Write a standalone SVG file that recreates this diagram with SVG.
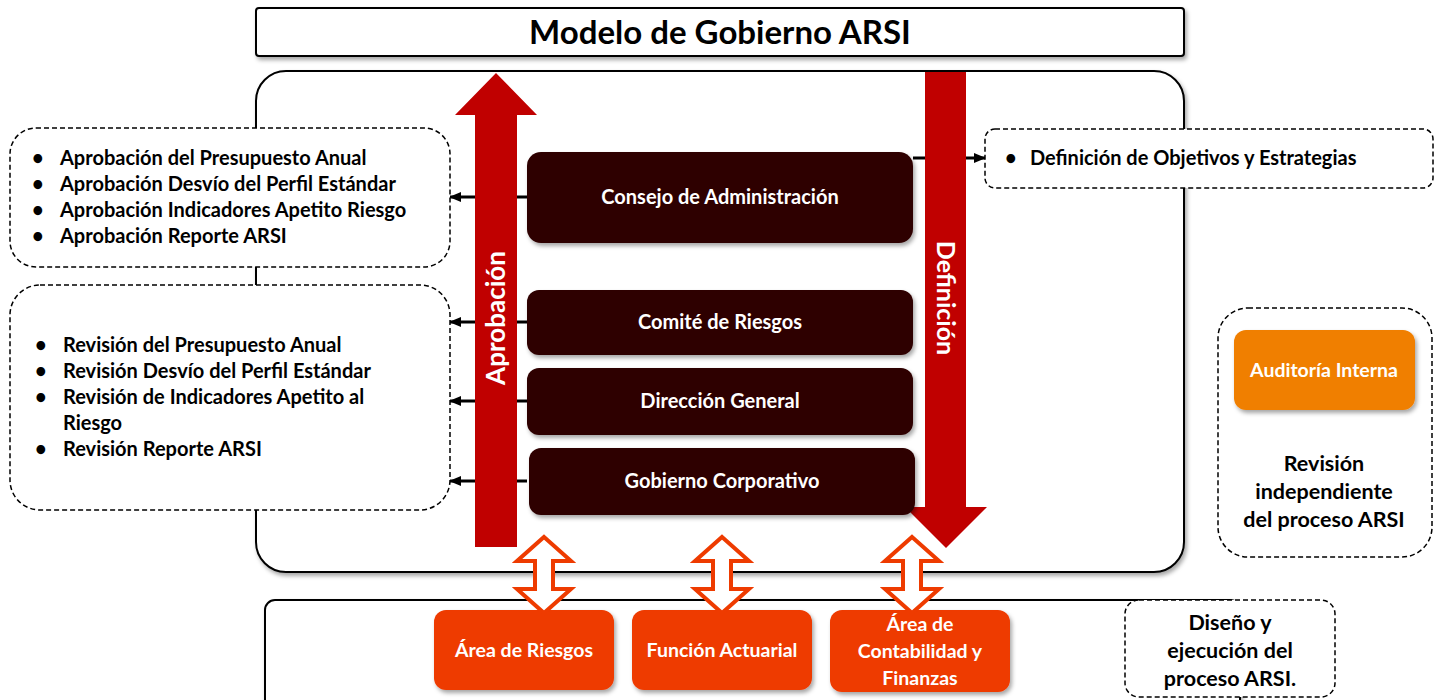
<svg xmlns="http://www.w3.org/2000/svg" width="1438" height="700" viewBox="0 0 1438 700">
<defs>
<filter id="sh" x="-10%" y="-10%" width="120%" height="130%">
<feDropShadow dx="2" dy="3" stdDeviation="2" flood-color="#000" flood-opacity="0.35"/>
</filter>
<marker id="ah" markerUnits="userSpaceOnUse" markerWidth="12" markerHeight="10" refX="11" refY="5" orient="auto">
<path d="M0,0 L12,5 L0,10 Z" fill="#000"/>
</marker>
</defs>
<style>
text{font-family:Lato,"Open Sans","Liberation Sans",sans-serif;font-weight:bold}
.frame{fill:#fff;stroke:#000;stroke-width:2}
.dash{fill:#fff;stroke:#000;stroke-width:1.5;stroke-dasharray:5 3}
.dark{fill:#2f0000}
.orn{fill:#ee3b00}
.red{fill:#c00000}
.dbl{fill:#fff;stroke:#ee3b00;stroke-width:4;stroke-linejoin:miter}
.wt{fill:#fff;font-size:20px;text-anchor:middle}
.wo{fill:#fff;font-size:19.5px;text-anchor:middle}
.bk{fill:#000;font-size:20px}
.bkc{fill:#000;font-size:21.5px;text-anchor:middle}
.conn{stroke:#000;stroke-width:3;fill:none}
</style>

<g id="title">
<rect x="256" y="8" width="928" height="48" rx="3" class="frame" filter="url(#sh)"/>
<text x="720" y="44" font-size="33" text-anchor="middle" fill="#000">Modelo de Gobierno ARSI</text>
</g>

<g id="main-frame">
<rect x="256" y="71" width="928" height="501" rx="30" class="frame" filter="url(#sh)"/>
</g>

<g id="bottom-frame">
<rect x="265" y="600" width="975" height="120" rx="10" class="frame" filter="url(#sh)"/>
</g>

<g id="connectors">
<line x1="527" y1="197" x2="450" y2="197" class="conn" marker-end="url(#ah)"/>
<line x1="527" y1="322" x2="450" y2="322" class="conn" marker-end="url(#ah)"/>
<line x1="527" y1="401" x2="450" y2="401" class="conn" marker-end="url(#ah)"/>
<line x1="527" y1="481" x2="450" y2="481" class="conn" marker-end="url(#ah)"/>
<line x1="913" y1="158" x2="985" y2="158" class="conn" marker-end="url(#ah)"/>
</g>

<g id="aprobacion">
<path class="red" d="M496,73 L537,115 L517,115 L517,547 L475,547 L475,115 L455,115 Z"/>
<text x="0" y="0" transform="translate(505,318) rotate(-90)" font-size="26" text-anchor="middle" fill="#fff">Aprobación</text>
</g>

<g id="definicion">
<path class="red" d="M925,72 L966,72 L966,507 L987,507 L946,548 L905,507 L925,507 Z"/>
<text x="0" y="0" transform="translate(937,298) rotate(90)" font-size="25" text-anchor="middle" fill="#fff">Definición</text>
</g>

<g id="consejo">
<rect x="527" y="152" width="386" height="91" rx="14" class="dark" filter="url(#sh)"/>
<text x="720" y="204" class="wt">Consejo de Administración</text>
</g>
<g id="comite">
<rect x="527" y="290" width="386" height="65" rx="12" class="dark" filter="url(#sh)"/>
<text x="720" y="329" class="wt">Comité de Riesgos</text>
</g>
<g id="direccion">
<rect x="527" y="368" width="386" height="67" rx="12" class="dark" filter="url(#sh)"/>
<text x="720" y="408" class="wt">Dirección General</text>
</g>
<g id="gobierno">
<rect x="529" y="448" width="386" height="67" rx="12" class="dark" filter="url(#sh)"/>
<text x="722" y="488" class="wt">Gobierno Corporativo</text>
</g>

<g id="aprobaciones-box">
<rect x="10" y="128" width="440" height="139" rx="26" class="dash"/>
<text class="bk" x="32" y="165">•</text><text class="bk" x="60" y="165">Aprobación del Presupuesto Anual</text>
<text class="bk" x="32" y="191">•</text><text class="bk" x="60" y="191">Aprobación Desvío del Perfil Estándar</text>
<text class="bk" x="32" y="217">•</text><text class="bk" x="60" y="217">Aprobación Indicadores Apetito Riesgo</text>
<text class="bk" x="32" y="243">•</text><text class="bk" x="60" y="243">Aprobación Reporte ARSI</text>
</g>

<g id="revisiones-box">
<rect x="10" y="285" width="440" height="225" rx="30" class="dash"/>
<text class="bk" x="35" y="352">•</text><text class="bk" x="63" y="352">Revisión del Presupuesto Anual</text>
<text class="bk" x="35" y="378">•</text><text class="bk" x="63" y="378">Revisión Desvío del Perfil Estándar</text>
<text class="bk" x="35" y="404">•</text><text class="bk" x="63" y="404">Revisión de Indicadores Apetito al</text>
<text class="bk" x="63" y="430">Riesgo</text>
<text class="bk" x="35" y="456">•</text><text class="bk" x="63" y="456">Revisión Reporte ARSI</text>
</g>

<g id="objetivos-box">
<rect x="985" y="129" width="448" height="59" rx="10" class="dash"/>
<text class="bk" x="1005" y="165">•</text><text class="bk" x="1030" y="165">Definición de Objetivos y Estrategias</text>
</g>

<g id="auditoria-box">
<rect x="1218" y="308" width="214" height="249" rx="30" class="dash"/>
<rect x="1234" y="330" width="181" height="80" rx="12" fill="#f07f00" filter="url(#sh)"/>
<text x="1324" y="377" class="wo">Auditoría Interna</text>
<text x="1324" y="471" class="bkc">Revisión</text>
<text x="1324" y="499" class="bkc">independiente</text>
<text x="1324" y="527" class="bkc">del proceso ARSI</text>
</g>

<g id="diseno-box">
<rect x="1125" y="600" width="210" height="97" rx="14" class="dash"/>
<text x="1230" y="630" class="bkc">Diseño y</text>
<text x="1230" y="658" class="bkc">ejecución del</text>
<text x="1230" y="686" class="bkc">proceso ARSI.</text>
</g>

<g id="area-riesgos">
<rect x="434" y="610" width="180" height="80" rx="12" class="orn" filter="url(#sh)"/>
<text x="524" y="657" class="wo">Área de Riesgos</text>
</g>
<g id="funcion-actuarial">
<rect x="632" y="610" width="180" height="80" rx="12" class="orn" filter="url(#sh)"/>
<text x="722" y="657" class="wo">Función Actuarial</text>
</g>
<g id="area-contabilidad">
<rect x="830" y="610" width="180" height="82" rx="12" class="orn" filter="url(#sh)"/>
<text x="920" y="631" class="wo">Área de</text>
<text x="920" y="658" class="wo">Contabilidad y</text>
<text x="920" y="685" class="wo">Finanzas</text>
</g>

<g id="double-arrows">
<path class="dbl" d="M544,537 L571,561 L553,561 L553,589 L571,589 L544,613 L517,589 L535,589 L535,561 L517,561 Z"/>
<path class="dbl" d="M722,537 L749,561 L731,561 L731,589 L749,589 L722,613 L695,589 L713,589 L713,561 L695,561 Z"/>
<path class="dbl" d="M912,537 L939,561 L921,561 L921,589 L939,589 L912,613 L885,589 L903,589 L903,561 L885,561 Z"/>
</g>
</svg>
